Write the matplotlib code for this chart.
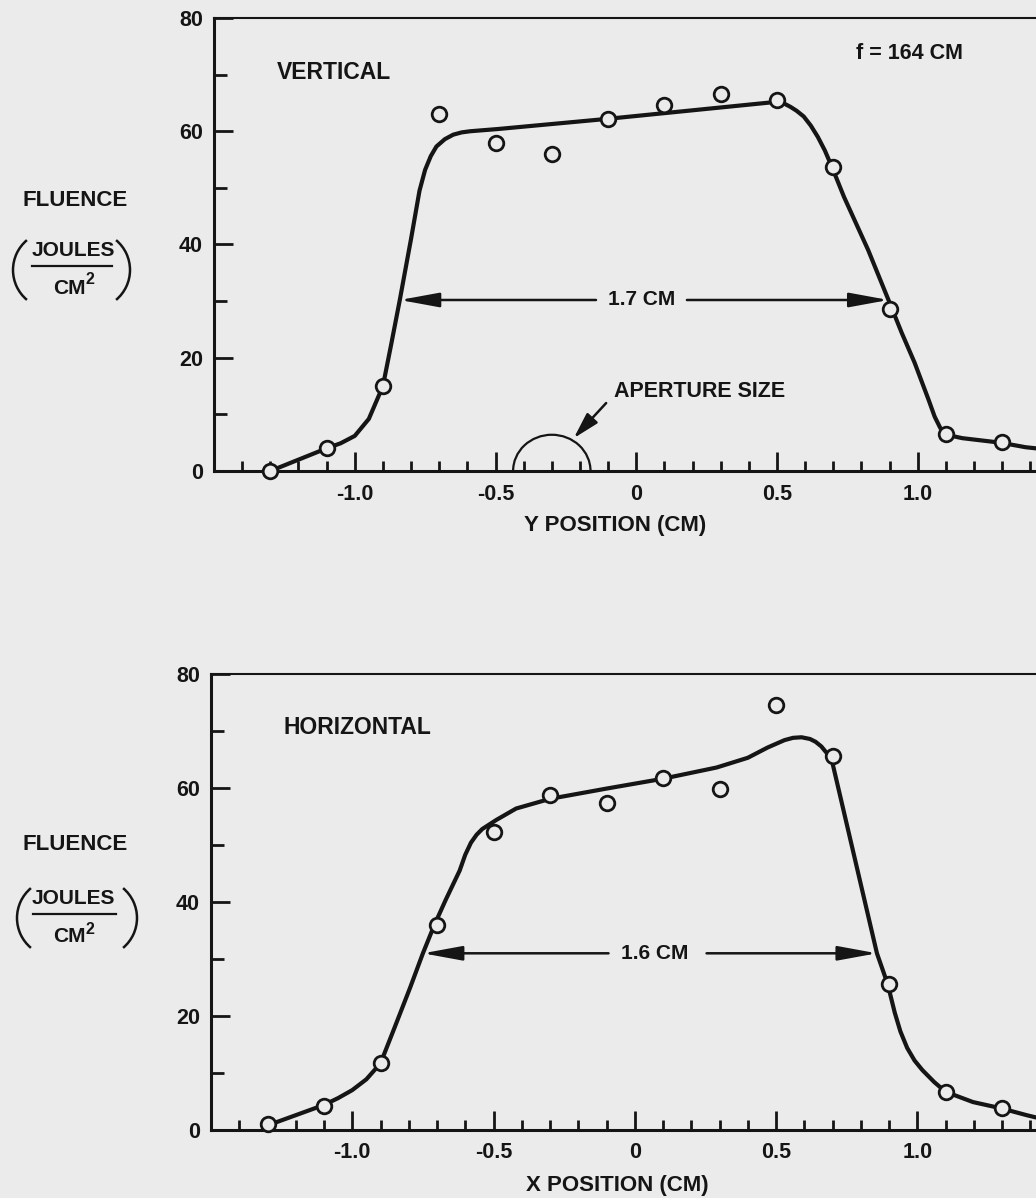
import numpy as np
import matplotlib
matplotlib.use('Agg')
import matplotlib.pyplot as plt
from matplotlib.patches import Arc
from matplotlib.lines import Line2D
from matplotlib.transforms import IdentityTransform

W, H = 1036, 1198
BG = '#ebebeb'
INK = '#151515'

plt.rcParams['font.family'] = ['Liberation Sans', 'DejaVu Sans']
plt.rcParams['font.weight'] = 'bold'

# measured points (position in cm, fluence in J/cm2)
pos = [-1.3, -1.1, -0.9, -0.7, -0.5, -0.3, -0.1, 0.1, 0.3, 0.5, 0.7, 0.9, 1.1, 1.3]
vert_pts = [0, 4, 15, 63, 58, 56, 62.2, 64.7, 66.6, 65.5, 53.7, 28.6, 6.5, 5.1]
horiz_pts = [1, 4.2, 11.7, 35.9, 52.2, 58.8, 57.4, 61.8, 59.9, 74.6, 65.7, 25.6, 6.7, 3.8]

# hand drawn curves
vert_curve_x = [-1.3, -1.1, -1.05, -1.0, -0.95, -0.9, -0.87, -0.84, -0.8, -0.77, -0.75,
                -0.73, -0.71, -0.68, -0.65, -0.62, -0.59, -0.49, -0.1, 0.46, 0.5, 0.525,
                0.548, 0.57, 0.595, 0.62, 0.645, 0.67, 0.695, 0.738, 0.824, 0.896, 0.943,
                0.989, 1.039, 1.06, 1.08, 1.1, 1.13, 1.158, 1.294, 1.383, 1.42]
vert_curve_y = [0, 4, 4.9, 6.2, 9.2, 15, 22.5, 30.2, 41, 49.5, 53.2,
                55.6, 57.3, 58.6, 59.4, 59.8, 60.0, 60.4, 62.2, 65.0, 65.2, 64.9,
                64.3, 63.6, 62.6, 61.0, 59.0, 56.6, 53.7, 48.4, 39.0, 30.2, 24.4,
                19.1, 12.5, 9.6, 7.6, 6.6, 6.1, 5.8, 5.0, 4.2, 4.0]

horiz_curve_x = [-1.3, -1.1, -1.05, -1.0, -0.95, -0.9, -0.85, -0.795, -0.75, -0.71, -0.67,
                 -0.62, -0.6, -0.58, -0.56, -0.54, -0.49, -0.42, -0.3, -0.1, 0.097, 0.29,
                 0.4, 0.47, 0.53, 0.56, 0.59, 0.62, 0.64, 0.66, 0.68, 0.7, 0.857, 0.895,
                 0.92, 0.94, 0.964, 0.99, 1.018, 1.06, 1.1, 1.197, 1.297, 1.387, 1.42]
horiz_curve_y = [0.8, 4.4, 5.6, 7.0, 8.9, 11.7, 18.0, 25.0, 31.0, 35.9, 40.3,
                 45.5, 48.3, 50.4, 51.8, 52.8, 54.4, 56.4, 58.1, 59.9, 61.6, 63.6,
                 65.3, 67.1, 68.4, 68.8, 68.9, 68.6, 68.1, 67.3, 66.1, 64.3, 31.0, 25.6,
                 20.6, 17.3, 14.4, 12.2, 10.5, 8.4, 6.7, 4.9, 3.8, 2.6, 2.2]

x_major = [-1.0, -0.5, 0, 0.5, 1.0]
x_labels = ['-1.0', '-0.5', '0', '0.5', '1.0']
x_minor = [-1.4, -1.3, -1.2, -1.1, -0.9, -0.8, -0.7, -0.6, -0.4, -0.3, -0.2, -0.1,
           0.1, 0.2, 0.3, 0.4, 0.6, 0.7, 0.8, 0.9, 1.1, 1.2, 1.3, 1.4]
y_major = [0, 20, 40, 60, 80]
y_minor = [10, 30, 50, 70]


def px(x, y):
    # pixel (from top-left) -> figure fraction
    return x / W, 1 - y / H


def setup(ax):
    ax.set_facecolor(BG)
    ax.set_xlim(-1.5, 1.42)
    ax.set_ylim(0, 80)
    ax.spines['right'].set_visible(False)
    ax.spines['top'].set_linewidth(1.5)
    ax.spines['left'].set_linewidth(2.2)
    ax.spines['bottom'].set_linewidth(2.2)
    for s in ax.spines.values():
        s.set_color(INK)
    ax.set_xticks(x_major)
    ax.set_xticklabels(x_labels)
    ax.set_xticks(x_minor, minor=True)
    ax.set_yticks(y_major)
    ax.set_yticks(y_minor, minor=True)
    ax.tick_params(axis='x', which='major', direction='in', length=14, width=2,
                   pad=9, labelsize=15.5, color=INK, labelcolor=INK)
    ax.tick_params(axis='x', which='minor', direction='in', length=7, width=2, color=INK)
    ax.tick_params(axis='y', which='major', direction='in', length=14, width=2,
                   pad=8, labelsize=15.5, color=INK, labelcolor=INK)
    ax.tick_params(axis='y', which='minor', direction='in', length=9.5, width=2, color=INK)


def draw_profile(ax, cx, cy, pts):
    ax.plot(cx, cy, color=INK, lw=3, solid_capstyle='round', solid_joinstyle='round', zorder=3)
    ax.plot(pos, pts, 'o', ms=10.5, mfc=BG, mec=INK, mew=2, zorder=4, clip_on=False)


def width_arrow(ax, y, tip_l, gap_l, gap_r, tip_r, label, label_x):
    ap = dict(arrowstyle='-|>,head_length=1.2,head_width=0.22', color=INK, lw=1.8,
              mutation_scale=20, shrinkA=0, shrinkB=0)
    ax.annotate('', xy=(tip_l, y), xytext=(gap_l, y), arrowprops=ap)
    ax.annotate('', xy=(tip_r, y), xytext=(gap_r, y), arrowprops=ap)
    ax.text(label_x, y, label, ha='center', va='center', fontsize=15, color=INK)


def fluence_label(fig, fy, jy, ly, cy, lx0, lx1, pl, pr, pcy):
    fig.text(*px(75, fy), 'FLUENCE', ha='center', va='center', fontsize=16, color=INK)
    fig.text(*px(73, jy), 'JOULES', ha='center', va='center', fontsize=15, color=INK)
    fig.add_artist(Line2D([lx0 / W, lx1 / W], [1 - ly / H, 1 - ly / H],
                          transform=fig.transFigure, color=INK, lw=1.6))
    fig.text(*px(86, cy), 'CM', ha='right', va='center', fontsize=15, color=INK)
    fig.text(*px(85, cy - 8), '2', ha='left', va='center', fontsize=11.5, color=INK)
    r = 39
    fig.add_artist(Arc((pl + r, H - pcy), 2 * r, 2 * r, theta1=130, theta2=230,
                       transform=IdentityTransform(), color=INK, lw=1.8))
    fig.add_artist(Arc((pr - r, H - pcy), 2 * r, 2 * r, theta1=-50, theta2=50,
                       transform=IdentityTransform(), color=INK, lw=1.8))


fig = plt.figure(figsize=(W / 100, H / 100), dpi=100, facecolor=BG)

# top panel: vertical profile
ax1 = fig.add_axes([214 / W, 1 - 471 / H, (W - 214) / W, (471 - 18) / H])
setup(ax1)
draw_profile(ax1, vert_curve_x, vert_curve_y, vert_pts)
width_arrow(ax1, 30.2, -0.84, -0.143, 0.18, 0.896, '1.7 CM', 0.02)
ax1.text(-1.275, 70.3, 'VERTICAL', ha='left', va='center', fontsize=16.5, color=INK)
ax1.text(0.78, 73.8, 'f = 164 CM', ha='left', va='center', fontsize=15.5, color=INK)
ax1.add_patch(Arc((-0.30, 0), 0.275, 12.8, theta1=0, theta2=180, color=INK, lw=1.6))
ax1.annotate('', xy=(-0.222, 5.8), xytext=(-0.107, 12.0),
             arrowprops=dict(arrowstyle='-|>,head_length=0.8,head_width=0.22', color=INK,
                             lw=1.8, mutation_scale=20, shrinkA=0, shrinkB=0))
ax1.text(-0.08, 14.0, 'APERTURE SIZE', ha='left', va='center', fontsize=15.5, color=INK)
fig.text(*px(615, 526), 'Y POSITION (CM)', ha='center', va='center', fontsize=16, color=INK)
fluence_label(fig, 200, 250, 266, 288, 32, 112, 13, 130, 270)

# bottom panel: horizontal profile
ax2 = fig.add_axes([211 / W, 1 - 1130 / H, (W - 211) / W, (1130 - 674) / H])
setup(ax2)
draw_profile(ax2, horiz_curve_x, horiz_curve_y, horiz_pts)
width_arrow(ax2, 31.0, -0.75, -0.093, 0.254, 0.857, '1.6 CM', 0.07)
ax2.text(-1.245, 70.6, 'HORIZONTAL', ha='left', va='center', fontsize=16.5, color=INK)
fig.text(*px(617, 1185), 'X POSITION (CM)', ha='center', va='center', fontsize=16, color=INK)
fluence_label(fig, 845, 899, 914, 937, 33, 116, 17, 137, 918)

fig.savefig('out.png', dpi=100, facecolor=BG)
